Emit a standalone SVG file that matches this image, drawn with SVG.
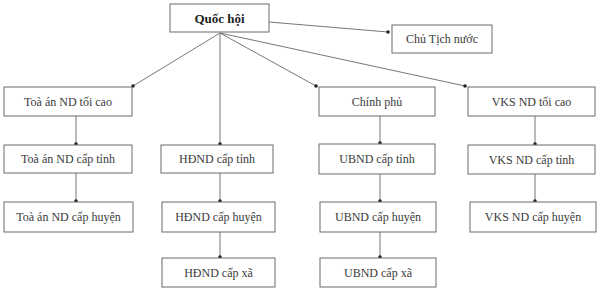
<svg xmlns="http://www.w3.org/2000/svg" width="600" height="292" viewBox="0 0 600 292">
<style>
  .box { fill: #ffffff; stroke: #6b6b6b; stroke-width: 1; }
  .t { font-family: "Liberation Serif", "DejaVu Serif", serif; font-size: 12px; fill: #3a3a3a; text-anchor: middle; dominant-baseline: central; }
  .b { font-weight: bold; font-size: 13px; fill: #222222; }
  .c { stroke: #777777; stroke-width: 1; fill: none; marker-end: url(#dot); }
</style>
<defs>
  <marker id="dot" viewBox="0 0 4 4" refX="2" refY="2" markerWidth="4" markerHeight="4" markerUnits="userSpaceOnUse">
    <circle cx="2" cy="2" r="1.8" fill="#222222"/>
  </marker>
</defs>
<rect width="600" height="292" fill="#ffffff"/>
<g id="connectors">
  <line class="c" x1="269" y1="22" x2="388" y2="32"/>
  <line class="c" x1="220" y1="33" x2="133" y2="86"/>
  <line class="c" x1="220" y1="33" x2="220" y2="144"/>
  <line class="c" x1="220" y1="33" x2="316" y2="86"/>
  <line class="c" x1="220" y1="33" x2="465" y2="86"/>
  <line class="c" x1="76" y1="116" x2="76" y2="144"/>
  <line class="c" x1="76" y1="173" x2="76" y2="201"/>
  <line class="c" x1="220" y1="173" x2="220" y2="201"/>
  <line class="c" x1="220" y1="232" x2="220" y2="257"/>
  <line class="c" x1="380" y1="116" x2="380" y2="143"/>
  <line class="c" x1="380" y1="174" x2="380" y2="201"/>
  <line class="c" x1="380" y1="232" x2="380" y2="257"/>
  <line class="c" x1="535" y1="116" x2="535" y2="144"/>
  <line class="c" x1="535" y1="174" x2="535" y2="201"/>
</g>
<g id="quoc-hoi"><rect class="box" x="170" y="4" width="99" height="28"/><text class="t b" x="219.5" y="18">Quốc hội</text></g>
<g id="chu-tich-nuoc"><rect class="box" x="392" y="25" width="100" height="28"/><text class="t" x="442" y="39">Chủ Tịch nước</text></g>
<g id="toa-an-toi-cao"><rect class="box" x="4" y="87" width="128" height="29"/><text class="t" x="68" y="101.5">Toà án ND tối cao</text></g>
<g id="chinh-phu"><rect class="box" x="319" y="87" width="116" height="29"/><text class="t" x="377" y="101.5">Chính phủ</text></g>
<g id="vks-toi-cao"><rect class="box" x="468" y="87" width="127" height="29"/><text class="t" x="531.5" y="101.5">VKS ND tối cao</text></g>
<g id="toa-an-cap-tinh"><rect class="box" x="4" y="145" width="128" height="28"/><text class="t" x="68" y="159">Toà án ND cấp tỉnh</text></g>
<g id="hdnd-cap-tinh"><rect class="box" x="161" y="145" width="112" height="28"/><text class="t" x="217" y="159">HĐND cấp tỉnh</text></g>
<g id="ubnd-cap-tinh"><rect class="box" x="319" y="144" width="116" height="30"/><text class="t" x="377" y="159">UBND cấp tỉnh</text></g>
<g id="vks-cap-tinh"><rect class="box" x="468" y="145" width="127" height="29"/><text class="t" x="531.5" y="159.5">VKS ND cấp tỉnh</text></g>
<g id="toa-an-cap-huyen"><rect class="box" x="4" y="202" width="129" height="30"/><text class="t" x="68.5" y="217">Toà án ND cấp huyện</text></g>
<g id="hdnd-cap-huyen"><rect class="box" x="162" y="202" width="113" height="30"/><text class="t" x="218.5" y="217">HĐND cấp huyện</text></g>
<g id="ubnd-cap-huyen"><rect class="box" x="320" y="202" width="116" height="30"/><text class="t" x="378" y="217">UBND cấp huyện</text></g>
<g id="vks-cap-huyen"><rect class="box" x="470" y="202" width="126" height="30"/><text class="t" x="533" y="217">VKS ND cấp huyện</text></g>
<g id="hdnd-cap-xa"><rect class="box" x="162" y="258" width="113" height="29"/><text class="t" x="218.5" y="272.5">HĐND cấp xã</text></g>
<g id="ubnd-cap-xa"><rect class="box" x="320" y="258" width="116" height="29"/><text class="t" x="378" y="272.5">UBND cấp xã</text></g>
</svg>
